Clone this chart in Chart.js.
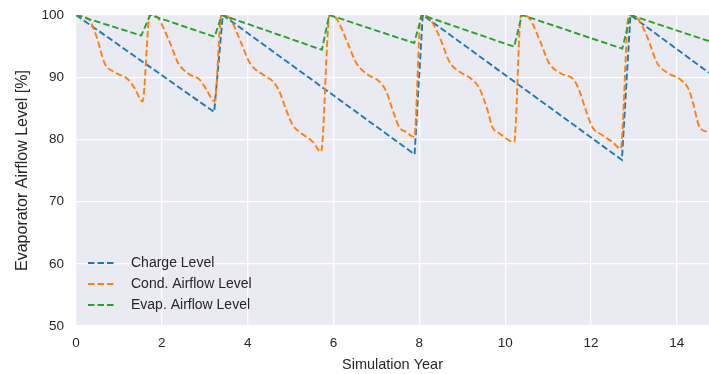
<!DOCTYPE html>
<html>
<head>
<meta charset="utf-8">
<script src="https://cdn.jsdelivr.net/npm/chart.js@4.4.1/dist/chart.umd.min.js"></script>
<style>
    html, body { margin: 0; padding: 0; background: #ffffff; }
    #chart { display: block; }
</style>
</head>
<body>
<canvas id="chart" width="709" height="374"></canvas>
<script>
// Series values (x = simulation year, y = level %)
const chargeX = [0, 3.22, 3.42, 7.89, 8.08, 12.72, 12.92, 14.75];
const chargeY = [100, 84.4, 100, 77.6, 100, 76.7, 100, 90.7];

const condX = [0, 0.3, 0.48, 0.67, 0.87, 1.22, 1.37, 1.55,
    1.72, 1.91, 2.19, 2.38, 2.61, 2.88, 3.04, 3.23,
    3.39, 3.58, 3.85, 4.05, 4.43, 4.59, 4.72, 4.9, 5.05, 5.25, 5.52, 5.71,
    5.91, 6.06, 6.33, 6.53, 6.8, 7.07, 7.23, 7.38, 7.53, 7.69, 7.88,
    8.04, 8.23, 8.47, 8.7, 8.93, 9.2, 9.4, 9.59, 9.7, 9.86, 10.21,
    10.37, 10.56, 10.83, 11.02, 11.3, 11.6, 11.72, 11.88, 12.03, 12.26, 12.5, 12.69,
    12.88, 13.08, 13.31, 13.54, 13.81, 14.09, 14.28, 14.4, 14.51, 14.71, 14.75];
const condY = [100, 99.3, 96.5, 92.2, 90.9, 89.6, 88.2, 86.1,
    100, 99.5, 95.5, 92.3, 90.6, 89.6, 88, 86.1,
    100, 99.5, 95.5, 92.3, 90.1, 89.3, 88, 84.7, 82.3, 81, 79.6, 78,
    100, 99.5, 95.5, 92.3, 90.4, 89.3, 87.7, 84.7, 82, 81.2, 80.4,
    100, 99.5, 96.5, 92.5, 90.9, 89.8, 88.2, 84.7, 82, 81, 79.6,
    100, 99.5, 95.5, 92.3, 90.6, 89.6, 88, 84.7, 82, 80.7, 79.6, 78.5,
    100, 99.5, 96.5, 92.3, 90.6, 89.6, 88, 85.3, 82.3, 81.2, 81.1];

const evapX = [0, 1.52, 1.73, 3.23, 3.40, 5.73, 5.90, 7.88, 8.06, 10.21, 10.39, 12.73, 12.92, 14.75];
const evapY = [100, 96.7, 100, 96.5, 100, 94.4, 100, 95.5, 100, 94.9, 100, 94.6, 100, 95.8];

const seriesLabels = ['Charge Level', 'Cond. Airflow Level', 'Evap. Airflow Level'];
const xTicks = [0, 2, 4, 6, 8, 10, 12, 14];
const yTicks = [50, 60, 70, 80, 90, 100];

const colors = ['#1f77b4', '#ff7f0e', '#2ca02c'];
const FONT = "'Liberation Sans', Arial, sans-serif";
const TEXT = '#262626';

function toPoints(xs, ys) {
    return xs.map((x, i) => ({ x: x, y: ys[i] }));
}

function lineSet(label, xs, ys, color, order, smooth) {
    return {
        label: label,
        data: toPoints(xs, ys),
        borderColor: color,
        backgroundColor: color,
        borderWidth: 1.9,
        borderDash: [6.5, 3],
        pointRadius: 0,
        fill: false,
        tension: 0,
        cubicInterpolationMode: smooth ? 'monotone' : 'default',
        order: order
    };
}

// seaborn-ish grey panel behind the grid
const panelBg = {
    id: 'panelBg',
    beforeDraw(chart) {
        const { ctx, chartArea: a } = chart;
        ctx.save();
        ctx.fillStyle = '#eaeaf2';
        ctx.fillRect(a.left, a.top, a.right - a.left, a.bottom - a.top);
        ctx.restore();
    }
};

// legend drawn inside the plot, lower left
const innerLegend = {
    id: 'innerLegend',
    afterDraw(chart) {
        const { ctx, chartArea: a } = chart;
        const x0 = a.left + 12;
        let y = a.top + 248;
        ctx.save();
        ctx.font = '14px ' + FONT;
        ctx.textBaseline = 'middle';
        chart.data.datasets.forEach(ds => {
            ctx.strokeStyle = ds.borderColor;
            ctx.lineWidth = ds.borderWidth;
            ctx.setLineDash(ds.borderDash);
            ctx.beginPath();
            ctx.moveTo(x0, y);
            ctx.lineTo(x0 + 26, y);
            ctx.stroke();
            ctx.setLineDash([]);
            ctx.fillStyle = TEXT;
            ctx.fillText(ds.label, x0 + 43, y);
            y += 21;
        });
        ctx.restore();
    }
};

new Chart(document.getElementById('chart'), {
    type: 'line',
    data: {
        datasets: [
            lineSet(seriesLabels[0], chargeX, chargeY, colors[0], 3, false),
            lineSet(seriesLabels[1], condX, condY, colors[1], 2, true),
            lineSet(seriesLabels[2], evapX, evapY, colors[2], 1, false)
        ]
    },
    options: {
        responsive: false,
        animation: false,
        devicePixelRatio: 1,
        layout: { padding: { top: 15, right: 0, bottom: 0, left: 0 } },
        plugins: {
            legend: { display: false },
            tooltip: { enabled: false }
        },
        scales: {
            x: {
                type: 'linear',
                min: 0,
                max: 14.75,
                afterBuildTicks: s => { s.ticks = xTicks.map(v => ({ value: v })); },
                afterFit: s => { s.height = 48; s.paddingLeft = 0; s.paddingRight = 0; },
                grid: { color: '#ffffff', lineWidth: 1.3, drawTicks: false },
                border: { display: false },
                ticks: { padding: 9, color: TEXT, font: { family: FONT, size: 13.5 } },
                title: {
                    display: true,
                    text: 'Simulation Year',
                    color: TEXT,
                    font: { family: FONT, size: 14.5 },
                    padding: { top: 0, bottom: 0 }
                }
            },
            y: {
                min: 50,
                max: 100,
                afterBuildTicks: s => { s.ticks = yTicks.map(v => ({ value: v })); },
                afterFit: s => { s.width = 76; s.paddingTop = 0; s.paddingBottom = 0; },
                grid: { color: '#ffffff', lineWidth: 1.3, drawTicks: false },
                border: { display: false },
                ticks: { padding: 12, color: TEXT, font: { family: FONT, size: 13.5 } },
                title: {
                    display: true,
                    text: 'Evaporator Airflow Level [%]',
                    color: TEXT,
                    font: { family: FONT, size: 16 },
                    padding: { top: 13, bottom: 0 }
                }
            }
        }
    },
    plugins: [panelBg, innerLegend]
});
</script>
</body>
</html>
